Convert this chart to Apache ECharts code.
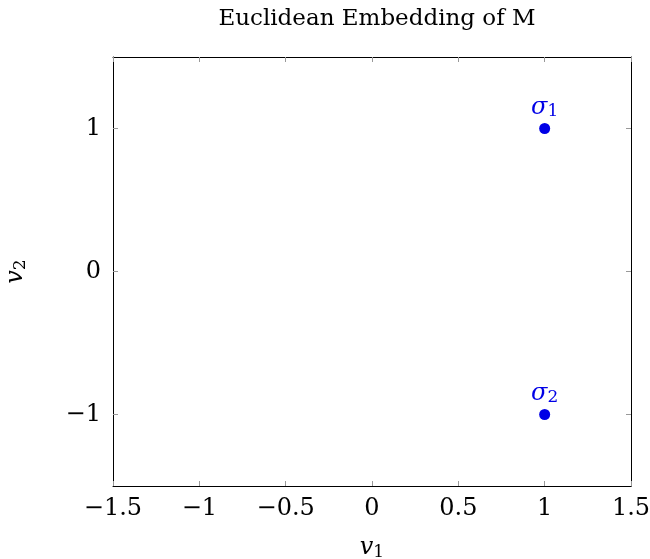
<!DOCTYPE html>
<html><head><meta charset="utf-8">
<script src="https://cdn.jsdelivr.net/npm/echarts@6/dist/echarts.min.js"></script>
<style>html,body{margin:0;padding:0;background:#fff}#c{width:650px;height:559px}</style>
</head><body><div id="c"></div>
<script>
const xTicks = [-1.5, -1, -0.5, 0, 0.5, 1, 1.5];
const yTicks = [-1, 0, 1];
const pointNames = ['1', '2'];
const pointX = [1, 1];
const pointY = [1, -1];
const titleText = 'Euclidean Embedding of M';

const FONT = 'DejaVu Serif';
const BLUE = '#0000e6';
const fmt = v => (v < 0 ? '\u2212' + Math.abs(v) : String(v));
const chart = echarts.init(document.getElementById('c'));
const axisCommon = {
  min: -1.5, max: 1.5,
  axisLine: {show: true, onZero: false, lineStyle: {color: '#000', width: 1}},
  axisTick: {show: true, inside: true, length: 5, lineStyle: {color: '#999', width: 1}},
  splitLine: {show: false}
};
chart.setOption({
  animation: false,
  title: {text: titleText, left: 372, top: 3, textAlign: 'center',
    textStyle: {fontFamily: FONT, fontSize: 23, fontWeight: 'normal', color: '#000'}},
  grid: {left: 113, top: 57, width: 518, height: 429, outerBoundsMode: 'none', containLabel: false},
  xAxis: [
    Object.assign({}, axisCommon, {type: 'value', position: 'bottom', interval: 0.5,
      axisLabel: {formatter: fmt, fontFamily: FONT, fontSize: 24, color: '#000', margin: 11},
      name: '{i|v}{s|1}', nameLocation: 'middle', nameGap: 48,
      nameTextStyle: {rich: {i: {fontFamily: FONT, fontStyle: 'italic', fontSize: 24, color: '#000'},
                             s: {fontFamily: FONT, fontSize: 17, color: '#000', padding: [10,0,0,0]}}}}),
    Object.assign({}, axisCommon, {type: 'value', position: 'top', interval: 0.5, axisLabel: {show: false}})
  ],
  yAxis: [
    Object.assign({}, axisCommon, {type: 'value', position: 'left', interval: 0.5,
      axisLabel: {formatter: v => (yTicks.indexOf(v) >= 0 ? fmt(v) : ''), fontFamily: FONT, fontSize: 24, color: '#000', margin: 12},
      axisTick: {show: true, inside: true, length: 5, lineStyle: {color: '#999'}, customValues: yTicks},
      name: '{i|v}{s|2}', nameLocation: 'middle', nameGap: 84, nameRotate: 90,
      nameTextStyle: {rich: {i: {fontFamily: FONT, fontStyle: 'italic', fontSize: 24, color: '#000'},
                             s: {fontFamily: FONT, fontSize: 17, color: '#000', padding: [10,0,0,0]}}}}),
    Object.assign({}, axisCommon, {type: 'value', position: 'right', interval: 0.5, axisLabel: {show: false},
      axisTick: {show: true, inside: true, length: 5, lineStyle: {color: '#999'}, customValues: yTicks}})
  ],
  series: [{
    type: 'scatter', symbolSize: 11,
    itemStyle: {color: BLUE, opacity: 1},
    data: pointX.map((x, i) => ({value: [x, pointY[i]], name: pointNames[i]})),
    label: {show: true, position: 'top', distance: 3, opacity: 1,
      formatter: p => '{i|\u03c3}{s|' + p.name + '}',
      rich: {i: {fontFamily: FONT, fontStyle: 'italic', fontSize: 24, color: BLUE},
             s: {fontFamily: FONT, fontSize: 17, color: BLUE, padding: [8,0,0,0]}}}
  }]
});
</script></body></html>
